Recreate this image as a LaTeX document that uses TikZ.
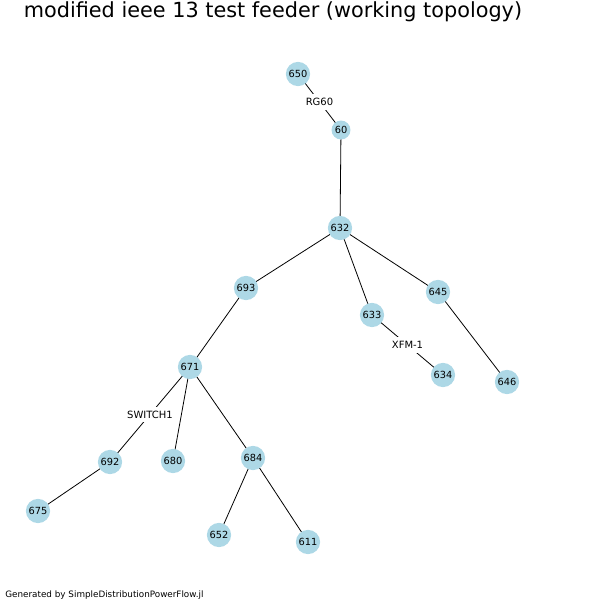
\documentclass[tikz,border=0pt]{standalone}
\usepackage{fontspec}
\setmainfont{DejaVu Sans}
\begin{document}
\begin{tikzpicture}[x=1pt,y=-1pt,
  bus/.style={circle,fill={rgb,255:red,173;green,216;blue,230},inner sep=1.6pt,font=\fontsize{9.8}{11}\selectfont},
  brlabel/.style={fill=white,inner sep=4pt,font=\fontsize{10}{11}\selectfont},
  line width=0.8pt]
\useasboundingbox (0,0) rectangle (600,600);
\draw (273,12) node[font=\fontsize{20.8}{24}\selectfont](title) {modified ieee 13 test feeder (working topology)};
\draw (5,595) node[anchor=west,inner sep=0pt,font=\fontsize{8.8}{10}\selectfont](footer) {Generated by SimpleDistributionPowerFlow.jl};
% edges first, buses on top
\path (298,74) coordinate (p650);
\path (341,130) coordinate (p60);
\path (340,228) coordinate (p632);
\path (246,288) coordinate (p693);
\path (372,315) coordinate (p633);
\path (438,292) coordinate (p645);
\path (443,375) coordinate (p634);
\path (507,382) coordinate (p646);
\path (190,367) coordinate (p671);
\path (110,462) coordinate (p692);
\path (173,461) coordinate (p680);
\path (253,458) coordinate (p684);
\path (38,511) coordinate (p675);
\path (219,535) coordinate (p652);
\path (308,542) coordinate (p611);
\draw (p650) -- node[brlabel](rg60) {RG60} (p60);
\draw (p60) -- (p632);
\draw (p632) -- (p693);
\draw (p632) -- (p633);
\draw (p632) -- (p645);
\draw (p633) -- node[brlabel](xfm1) {XFM-1} (p634);
\draw (p645) -- (p646);
\draw (p693) -- (p671);
\draw (p671) -- node[brlabel](switch1) {SWITCH1} (p692);
\draw (p671) -- (p680);
\draw (p671) -- (p684);
\draw (p692) -- (p675);
\draw (p684) -- (p652);
\draw (p684) -- (p611);
\node[bus] (n650) at (p650) {650};
\node[bus] (n60) at (p60) {60};
\node[bus] (n632) at (p632) {632};
\node[bus] (n693) at (p693) {693};
\node[bus] (n633) at (p633) {633};
\node[bus] (n645) at (p645) {645};
\node[bus] (n634) at (p634) {634};
\node[bus] (n646) at (p646) {646};
\node[bus] (n671) at (p671) {671};
\node[bus] (n692) at (p692) {692};
\node[bus] (n680) at (p680) {680};
\node[bus] (n684) at (p684) {684};
\node[bus] (n675) at (p675) {675};
\node[bus] (n652) at (p652) {652};
\node[bus] (n611) at (p611) {611};
\end{tikzpicture}
\end{document}
